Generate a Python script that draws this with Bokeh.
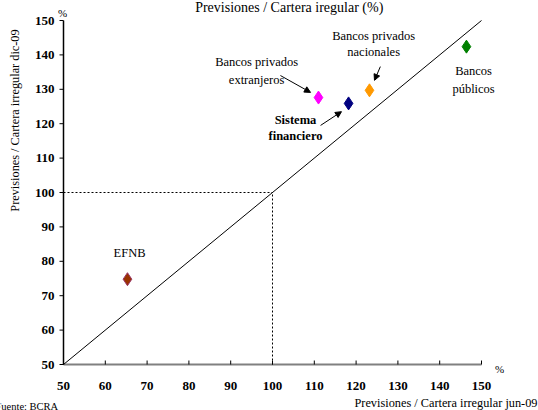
from bokeh.plotting import figure
from bokeh.models import Range1d, Label, Arrow, NormalHead, ColumnDataSource
from bokeh.embed import file_html
from bokeh.resources import INLINE

# Data
names = ["EFNB", "Bancos privados extranjeros", "Sistema financiero",
         "Bancos privados nacionales", "Bancos públicos"]
jun09 = [65.3, 111.0, 118.2, 123.2, 146.4]
dic09 = [74.8, 127.6, 125.9, 129.7, 142.4]
colors = ["#993300", "#FF00FF", "#000080", "#FF9900", "#008000"]
outlines = ["#993366", "#FF00FF", "#000080", "#FF9900", "#008000"]
ticks = [50, 60, 70, 80, 90, 100, 110, 120, 130, 140, 150]
tick_labels = [str(t) for t in ticks]

SERIF = "'Liberation Serif'"

# frame covers the whole canvas; 50..150 maps to px 63..481 (x) and 364..20 (y)
PXX = 4.18
PXY = 3.44
p = figure(width=538, height=410, output_backend="svg", toolbar_location=None,
           x_range=Range1d(50 - 63 / PXX, 50 + (538 - 63) / PXX),
           y_range=Range1d(150 - 390 / PXY, 150 + 20 / PXY),
           x_axis_location=None, y_axis_location=None,
           min_border=0, min_border_left=0, min_border_right=0,
           min_border_top=0, min_border_bottom=0)
p.outline_line_color = None
p.xgrid.visible = False
p.ygrid.visible = False
p.background_fill_color = "white"
p.border_fill_color = "white"

lo, hi = ticks[0], ticks[-1]

# axes lines
p.segment(x0=[lo], y0=[lo], x1=[hi], y1=[lo], line_color="#808080", line_width=2)
p.segment(x0=[lo], y0=[lo], x1=[lo], y1=[hi], line_color="black", line_width=1.5)
# ticks
p.segment(x0=ticks, y0=[lo] * len(ticks), x1=ticks, y1=[lo + 4 / PXY] * len(ticks),
          line_color="black", line_width=1)
p.segment(x0=[lo - 4 / PXX] * len(ticks), y0=ticks, x1=[lo] * len(ticks), y1=ticks,
          line_color="black", line_width=1)
# tick labels
p.text(x=ticks, y=[lo - 21 / PXY] * len(ticks), text=tick_labels,
       text_font=SERIF, text_font_style="bold", text_font_size="13px",
       text_align="center", text_baseline="middle", text_color="black")
p.text(x=[lo - 9 / PXX] * len(ticks), y=ticks, text=tick_labels,
       text_font=SERIF, text_font_style="bold", text_font_size="13px",
       text_align="right", text_baseline="middle", text_color="black")

# 45-degree line
p.line([lo, hi], [lo, hi], line_color="black", line_width=1)
# dotted reference lines at 100
p.line([lo, 100], [100, 100], line_color="black", line_width=1, line_dash="2 2")
p.line([100, 100], [lo, 100], line_color="black", line_width=1, line_dash="2 2")

src = ColumnDataSource(dict(x=jun09, y=dic09, c=colors, o=outlines))
p.scatter("x", "y", source=src, marker="diamond", size=13, fill_color="c",
          line_color="o", line_width=1)


def lab(x, y, t, size="12.5px", style="normal", align="center", baseline="middle",
        angle=0.0):
    p.add_layout(Label(x=x, y=y, text=t, text_font=SERIF, text_font_size=size,
                       text_font_style=style, text_align=align,
                       text_baseline=baseline, angle=angle, text_color="black"))


# point labels
lab(96.2, 137.8, "Bancos privados")
lab(96.2, 132.6, "extranjeros")
lab(124.2, 145.6, "Bancos privados")
lab(124.2, 140.7, "nacionales")
lab(148.1, 135.2, "Bancos")
lab(148.1, 130.2, "públicos")
lab(105.5, 121.2, "Sistema", style="bold")
lab(105.5, 116.3, "financiero", style="bold")
lab(65.8, 82.3, "EFNB")

# arrows
for (x0, y0, x1, y1) in [(101.9, 134.0, 109.1, 129.1),
                         (125.8, 136.6, 124.4, 132.6),
                         (111.5, 119.5, 116.5, 123.5)]:
    p.add_layout(Arrow(x_start=x0, y_start=y0, x_end=x1, y_end=y1,
                       line_color="black", line_width=1,
                       end=NormalHead(size=6, fill_color="black", line_color="black")))

# outer texts
lab(49.76, 152.3, "%", size="11px")
lab(154.3, 48.8, "%", size="11px")
lab(104.0, 153.8, "Previsiones / Cartera iregular (%)", size="14px")
lab(163.4, 38.95, "Previsiones / Cartera irregular jun-09", size="12.3px", align="right")
lab(38.28, 120.93, "Previsiones / Cartera irregular dic-09", size="12.3px", angle=1.5708)
lab(33.73, 37.79, "Fuente: BCRA", size="10.5px", align="left")

open("out.html", "w").write(file_html(p, INLINE))
